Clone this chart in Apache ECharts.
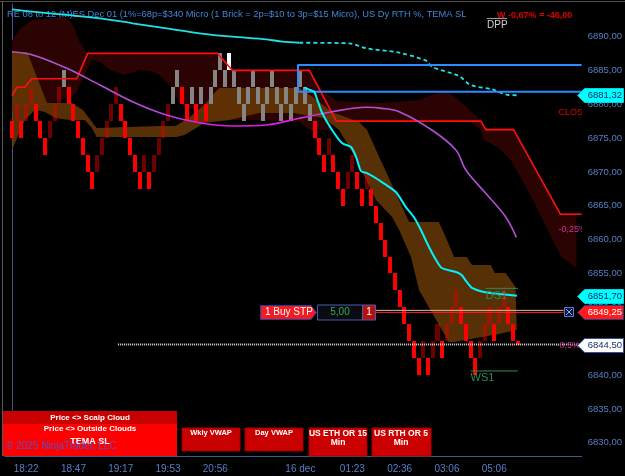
<!DOCTYPE html>
<html>
<head>
<meta charset="utf-8">
<script src="https://cdn.jsdelivr.net/npm/echarts@6/dist/echarts.min.js"></script>
<style>
  html, body { margin: 0; background: #000; }
  #chart { width: 625px; height: 476px; }
</style>
</head>
<body>
<div id="chart"></div>
<script>
// ---- data ----
const timeLabelCols = [3, 13, 23, 33, 43, 61, 72, 82, 92, 102]
const timeLabels = ['18:22', '18:47', '19:17', '19:53', '20:56', '16 dec', '01:23', '02:36', '03:06', '05:06']
const tickCols = [3, 13, 23, 33, 43, 53, 61, 72, 82, 92, 102]

const brickSize = 2.5
// top price of each renko brick (one per column)
const brickTops = [
  6877.5, 6880, 6877.5, 6880, 6882.5, 6880, 6877.5, 6875, 6877.5, 6880, 6882.5,
  6885, 6882.5, 6880, 6877.5, 6875, 6872.5, 6870, 6872.5, 6875, 6877.5, 6880, 6882.5,
  6880, 6877.5, 6875, 6872.5, 6870, 6872.5, 6870, 6872.5, 6875, 6877.5, 6880,
  6882.5, 6885, 6882.5, 6880, 6882.5, 6880, 6882.5, 6880, 6882.5, 6885, 6887.5, 6885, 6887.5, 6885,
  6882.5, 6880, 6882.5, 6885, 6882.5, 6880, 6882.5, 6885, 6882.5, 6880, 6882.5, 6880, 6882.5, 6885, 6882.5, 6880,
  6877.5, 6875, 6872.5, 6875, 6872.5, 6870, 6867.5, 6870, 6872.5, 6870, 6867.5, 6870, 6867.5,
  6865, 6862.5, 6860, 6857.5, 6855, 6852.5, 6850, 6847.5, 6845, 6842.5,
  6845, 6842.5, 6845, 6847.5, 6845, 6847.5, 6850, 6852.5, 6850, 6847.5, 6845, 6842.5, 6845, 6847.5, 6850, 6847.5, 6850, 6852.5, 6850, 6847.5
]
// R red, D dark red, G gray, W white
const brickKinds = 'RDRDDRRRDDD' + 'GRRRRRRDDDDD' + 'RRRRRDRDDDD' + 'GGRRGRGRGGGGWG' +
  'GGGGGGGGGGGGGGGG' + 'RRRDRRRDDRRDR' + 'RRRRRRRRRR' + 'DRDDRDDDRRRRDDDRDDRR'
// last (forming) brick: col, top, bottom, wick low
const formingBrick = [107, 6845, 6844.5, 6843.9]

const vwapSolid = [[0, 6894.02], [4.4, 6893.66], [11.6, 6893.18], [18.6, 6892.69], [25.5, 6891.95], [32.7, 6891.21],
  [39.7, 6890.47], [46.6, 6889.97], [53.8, 6889.59], [57.2, 6889.23], [60.8, 6889.08]]
const vwapDashed = [[60.8, 6889.08], [71.3, 6888.99], [74.9, 6888.26], [81.9, 6887.61], [87.6, 6886.43], [88.8, 6885.54],
  [94.5, 6884.17], [97, 6882.84], [101.5, 6882.2], [105.1, 6881.36], [107.2, 6881.32]]
const temaLine = [[61.8, 6882.5], [62.7, 6882.2], [63.9, 6881.85], [64.6, 6880.62], [65.6, 6878.7], [67.7, 6876.19],
  [69.8, 6874.27], [71.7, 6873.68], [72.8, 6872.2], [73.8, 6870.13], [75.1, 6869.83], [77.6, 6868.8], [81.2, 6867.03],
  [83.3, 6864.81], [85, 6863.34], [86.5, 6861.42], [88.2, 6858.91], [89.7, 6856.99], [90.9, 6855.81], [93.9, 6855.22],
  [95.1, 6854.78], [96.2, 6853.74], [97.3, 6852.86], [99.8, 6852.27], [103, 6851.98], [106.8, 6851.7]]
const slowAvg = [[0, 6887.75], [4.4, 6887.27], [11.6, 6885.3], [18.6, 6882.84], [25.5, 6880.37], [32.7, 6878.4],
  [39.7, 6877.27], [46.6, 6876.78], [53.8, 6876.93], [60.8, 6877.92], [67.7, 6878.89], [74.9, 6879.54], [78.3, 6879.39],
  [81.9, 6878.89], [88.8, 6876.19], [93.9, 6873.24], [96, 6870.28], [100.2, 6866.84], [104.4, 6863.38], [106.7, 6860.34]]
const stopLine = [[0, 6881.25], [1.05, 6882.5], [2.7, 6882.5], [4.2, 6883.75], [13.7, 6883.75], [16, 6887.5],
  [43.5, 6887.5], [46.6, 6885], [62.9, 6885], [68.6, 6877.5], [99.2, 6877.5], [100.2, 6876.25], [106.1, 6876.25],
  [116, 6863.75], [120.5, 6863.75]]

const outerCloud = [[0, 6889.48], [2.1, 6891.4], [4.4, 6892.44], [11.2, 6892.88], [12.9, 6891.7], [14.3, 6889.19],
  [16, 6887.5], [43.5, 6887.5], [46.6, 6885.05], [62.9, 6885.05], [65.4, 6882.39], [68.6, 6880.47], [77.6, 6880.18],
  [86.1, 6880.62], [90.3, 6881.8], [91.8, 6882.1], [94.5, 6880.62], [97.7, 6878.55], [99.2, 6877.52], [100.2, 6876.48],
  [106.1, 6876.48], [116, 6863.93], [119.4, 6863.93], [119.4, 6855.8], [116.2, 6857.43], [114.1, 6860.38],
  [109.9, 6866.29], [105.5, 6871.76], [103, 6873.53], [99.8, 6874.71], [99.2, 6876.19], [96.6, 6877.52],
  [68.6, 6877.52], [66.7, 6876.19], [62.9, 6876.19], [60.8, 6877.37], [52.3, 6877.67], [42.8, 6877.67],
  [38.6, 6879.14], [35.4, 6880.18], [33.8, 6882.54], [31.2, 6884.31], [29.1, 6884.9], [27, 6885.05], [23.8, 6884.31],
  [20.7, 6885.05], [18.6, 6886.23], [16.9, 6886.53], [15.4, 6884.31], [13.3, 6881.36], [10.1, 6880.62],
  [4.9, 6879.44], [0, 6879.14]]
const scalpCloud = [[0, 6887.71], [3.2, 6887.71], [7.4, 6880.18], [12.7, 6880.18], [15, 6879.14], [17.9, 6876.48],
  [31.2, 6876.78], [34.6, 6876.78], [37.6, 6878.11], [40.7, 6879.88], [42.4, 6881.36], [43.9, 6882.39], [60.8, 6882.39],
  [63.3, 6881.21], [67.7, 6878.85], [73.4, 6877.37], [75.1, 6876.19], [77, 6873.24], [80.4, 6868.07], [84, 6862.6],
  [90.3, 6862.6], [92, 6859.94], [93.5, 6857.43], [96.2, 6857.43], [97.3, 6856.25], [101.3, 6856.25], [102.1, 6855.07],
  [104.4, 6855.07], [106.5, 6853], [106.8, 6846.65],
  [103, 6846.06], [93.5, 6844.87], [92.4, 6844.87], [86.1, 6852.56], [84.4, 6857.43], [81.9, 6861.42], [80.4, 6863.34],
  [77, 6865.85], [74.1, 6869.99], [71.7, 6873.24], [69.2, 6876.19], [66, 6877.96], [62.9, 6878.26], [59.7, 6878.7],
  [52.3, 6878.7], [46, 6877.67], [40.7, 6877.22], [36.5, 6875.45], [34.8, 6875.16], [17.9, 6875.16], [16.9, 6876.48],
  [15.4, 6877.67], [12.2, 6877.67], [9.1, 6877.96], [7, 6878.85], [4.9, 6879.14], [2.7, 6877.67], [0, 6873.24]]

const weekLevels = [6885.8, 6881.85]
const weekStartCol = 60.5
const lastPrice = 6844.5
const lastPriceStartCol = 22.4
const orderPrice = 6849.25
const orderLineCols = [76.8, 116.7]
const pivotLevels = [6852.8, 6840.6]
const pivotCols = [[100.2, 107], [97, 107]]
const pivotNames = ['DS1', 'WS1']
const priceTags = [6881.32, 6851.70, 6849.25, 6844.50]
const notes = [[115.6, 6878.74, 'CLOSE'], [115.6, 6861.42, '-0,25%'], [115.2, 6844.4, '-0,5%']]

// ---- chart ----
const FONT = "'Liberation Sans', Arial, sans-serif"
const NCAT = 122
const catData = []
for (let j = 0; j < NCAT; j++) {
  const k = timeLabelCols.indexOf(j - 1)
  catData.push(k >= 0 ? timeLabels[k] : '')
}
const fmt = v => v.toFixed(2).replace('.', ',')

const brickColors = { R: '#ff0000', D: 'rgba(215,0,0,0.5)', G: '#858585', W: '#ffffff' }
const brickData = brickTops.map((t, i) => [i, t, t - brickSize])
brickData.push(formingBrick)

function polygonSeries(pts, fill, z) {
  return {
    type: 'custom', xAxisIndex: 1, yAxisIndex: 0, z: z, silent: true, data: pts,
    renderItem(params, api) {
      if (params.dataIndex !== 0) return null
      return { type: 'polygon', shape: { points: pts.map(p => api.coord(p)) }, style: { fill: fill } }
    }
  }
}

function flatLine(data, color, width, type, z) {
  return {
    type: 'line', xAxisIndex: 1, yAxisIndex: 0, data: data, z: z, silent: true,
    showSymbol: false, lineStyle: { color: color, width: width, type: type || 'solid' }
  }
}

const tagStyles = [
  { fill: '#00ffff', stroke: '#00d8d8', text: '#0b2a72' },
  { fill: '#00ffff', stroke: '#00d8d8', text: '#0b2a72' },
  { fill: '#ff1a1a', stroke: '#2a3a8a', text: '#ffffff' },
  { fill: '#ffffff', stroke: '#3050a0', text: '#1a2f6b' }
]
const noteColors = ['#e00000', '#d0308f', '#d0308f']

const chart = echarts.init(document.getElementById('chart'))
chart.setOption({
  backgroundColor: '#000',
  animation: false,
  grid: { left: 4.9, right: 43.3, top: 4, bottom: 20 },
  xAxis: [
    {
      type: 'category',
      data: catData,
      boundaryGap: true,
      axisLine: { lineStyle: { color: '#46568e', width: 1 } },
      axisTick: {
        alignWithLabel: true, length: 4,
        interval: (i) => tickCols.indexOf(i - 1) >= 0,
        lineStyle: { color: '#46568e' }
      },
      axisLabel: {
        interval: (i, v) => v !== '',
        color: '#5a7fc4', fontSize: 10, fontFamily: FONT, margin: 8
      },
      splitLine: { show: false }
    },
    { type: 'value', min: -1.5, max: 120.5, show: false }
  ],
  yAxis: {
    type: 'value',
    position: 'right',
    min: 6828.04,
    max: 6894.8,
    splitNumber: 13,
    axisLine: { show: true, lineStyle: { color: '#46568e' } },
    axisTick: { show: false },
    axisLabel: {
      color: '#5a7fc4', fontSize: 9.5, fontFamily: FONT, margin: 6,
      showMinLabel: false, showMaxLabel: false,
      formatter: fmt
    },
    splitLine: { show: false }
  },
  series: [
    polygonSeries(outerCloud, '#2c0303', 1),
    polygonSeries(scalpCloud, 'rgba(110,60,6,0.8)', 2),
    {
      type: 'custom', xAxisIndex: 1, yAxisIndex: 0, z: 3, silent: true,
      data: brickData,
      renderItem(params, api) {
        const i = params.dataIndex
        const col = api.value(0)
        const p0 = api.coord([col - 0.43, api.value(1)])
        const p1 = api.coord([col + 0.43, api.value(2)])
        const x = Math.round(p0[0]), y = Math.round(p0[1])
        const rect = { type: 'rect', shape: { x: x, y: y, width: Math.round(p1[0]) - x, height: Math.round(p1[1]) - y },
          style: { fill: brickColors[brickKinds[i] || 'R'] } }
        if (i < brickTops.length) return rect
        const w = api.coord([col, api.value(3)])
        return { type: 'group', children: [rect,
          { type: 'line', shape: { x1: x + 2, y1: y, x2: x + 2, y2: Math.round(w[1]) }, style: { stroke: '#ff0000', lineWidth: 1 } }] }
      }
    },
    flatLine(stopLine, '#ff1010', 1.6, 'solid', 4),
    Object.assign(flatLine(slowAvg, null, 1.6, 'solid', 5), {
      smooth: 0.35,
      lineStyle: {
        width: 1.6,
        color: new echarts.graphic.LinearGradient(0, 0, 1, 0, [
          { offset: 0, color: '#a95bd0' },
          { offset: 0.27, color: '#b84ad8' },
          { offset: 0.36, color: '#e21ce6' },
          { offset: 0.55, color: '#e21ce6' },
          { offset: 0.66, color: '#b04fd2' },
          { offset: 1, color: '#b04fd2' }
        ])
      }
    }),
    Object.assign(flatLine(vwapSolid, '#1ee3e6', 1.8, 'solid', 6), { smooth: 0.3 }),
    Object.assign(flatLine(vwapDashed, '#1ee3e6', 1.8, [4, 3], 6), { smooth: 0.3 }),
    Object.assign(flatLine(temaLine, '#00f4ff', 2, 'solid', 7), { smooth: 0.2 }),
    flatLine([[120.5, weekLevels[0]], [weekStartCol, weekLevels[0]], [weekStartCol, weekLevels[1]], [120.5, weekLevels[1]]],
      '#2a8cff', 2, 'solid', 6),
    flatLine([[lastPriceStartCol, lastPrice], [120.5, lastPrice]], '#dcdcdc', 2, [1, 1], 8),
    flatLine([[orderLineCols[0], orderPrice + 0.3], [orderLineCols[1], orderPrice + 0.3]], '#e8b4b4', 1, 'solid', 8),
    flatLine([[orderLineCols[0], orderPrice], [orderLineCols[1], orderPrice]], '#ff2020', 1, 'solid', 8),
    flatLine([[pivotCols[0][0], pivotLevels[0]], [pivotCols[0][1], pivotLevels[0]]], '#2e8b57', 1, 'solid', 8),
    flatLine([[pivotCols[1][0], pivotLevels[1]], [pivotCols[1][1], pivotLevels[1]]], '#2e8b57', 1, 'solid', 8),
    {
      // pivot names and clipped percent notes near the right edge
      type: 'custom', xAxisIndex: 1, yAxisIndex: 0, z: 9, silent: true, clip: true,
      data: pivotLevels.map((v, i) => [pivotCols[i][0], v]).concat(notes.map(n => [n[0], n[1]])),
      renderItem(params, api) {
        const i = params.dataIndex
        const p = api.coord([api.value(0), api.value(1)])
        if (i < pivotNames.length) {
          return { type: 'text', style: { text: pivotNames[i], x: p[0], y: p[1] + 2, fill: '#2e8b57',
            font: '11px ' + FONT, verticalAlign: 'top' } }
        }
        const n = i - pivotNames.length
        return { type: 'text', style: { text: notes[n][2], x: p[0], y: p[1], fill: noteColors[n],
          font: '9px ' + FONT, verticalAlign: 'middle' } }
      }
    },
    {
      // price tags on the axis plus the pending order row
      type: 'custom', xAxisIndex: 1, yAxisIndex: 0, z: 20, silent: true, clip: false,
      data: priceTags.map(v => [0, v]),
      renderItem(params, api) {
        const i = params.dataIndex
        const cs = params.coordSys
        const xr = cs.x + cs.width
        const y = Math.round(api.coord([0, api.value(1)])[1]) + 0.5
        const st = tagStyles[i]
        const kids = [
          { type: 'polygon', shape: { points: [[xr - 4, y], [xr + 3, y - 7], [623.5, y - 7], [623.5, y + 7], [xr + 3, y + 7]] },
            style: { fill: st.fill, stroke: st.stroke, lineWidth: 1 } },
          { type: 'text', style: { text: fmt(api.value(1)), x: xr + 6, y: y, fill: st.text, font: '9.5px ' + FONT, verticalAlign: 'middle' } }
        ]
        if (api.value(1) === orderPrice) {
          kids.push(
            { type: 'polygon', shape: { points: [[260.5, y - 7], [311, y - 7], [316.5, y], [311, y + 7], [260.5, y + 7]] },
              style: { fill: '#ee1c24', stroke: '#2a3a9a', lineWidth: 1 } },
            { type: 'text', style: { text: '1 Buy STP', x: 265, y: y, fill: '#fff', font: '10px ' + FONT, verticalAlign: 'middle' } },
            { type: 'rect', shape: { x: 317.5, y: y - 7.5, width: 45, height: 15 }, style: { fill: '#0a0a12', stroke: '#4a5ab0' } },
            { type: 'text', style: { text: '5,00', x: 340, y: y, fill: '#33b04a', font: '10px ' + FONT, align: 'center', verticalAlign: 'middle' } },
            { type: 'rect', shape: { x: 362.5, y: y - 7.5, width: 13, height: 15 }, style: { fill: '#b80f0f', stroke: '#4a5ab0' } },
            { type: 'text', style: { text: '1', x: 369, y: y, fill: '#fff', font: '10px ' + FONT, align: 'center', verticalAlign: 'middle' } },
            { type: 'rect', shape: { x: 564.5, y: y - 5, width: 9, height: 9 }, style: { fill: '#10183a', stroke: '#5a78e0' } },
            { type: 'line', shape: { x1: 566, y1: y - 3.5, x2: 572, y2: y + 2.5 }, style: { stroke: '#8aa6ff' } },
            { type: 'line', shape: { x1: 572, y1: y - 3.5, x2: 566, y2: y + 2.5 }, style: { stroke: '#8aa6ff' } }
          )
        }
        return { type: 'group', children: kids }
      }
    }
  ],
  graphic: [
    { type: 'line', shape: { x1: 0, y1: 1.5, x2: 625, y2: 1.5 }, style: { stroke: '#505050' }, z: 50 },
    { type: 'line', shape: { x1: 2.5, y1: 1.5, x2: 2.5, y2: 456 }, style: { stroke: '#5a5a5a' }, z: 50 },
    { type: 'text', left: 7, top: 10, z: 1, style: {
      text: 'RE 08 to 12 (M)ES Dec 01 (1%=68p=$340 Micro (1 Brick = 2p=$10 to 3p=$15 Micro), US Dy RTH %, TEMA SL',
      fill: '#3f86dc', font: '9.3px ' + FONT } },
    { type: 'line', shape: { x1: 487, y1: 18.5, x2: 507, y2: 18.5 }, style: { stroke: '#9a9a9a' }, z: 50 },
    { type: 'text', left: 487, top: 20, z: 50, style: { text: 'DPP', fill: '#d0d0d0', font: '10px ' + FONT } },
    { type: 'text', left: 497, top: 11, z: 51, style: { text: 'W -0,67% = -46,00', fill: '#e00000', font: 'bold 9px ' + FONT } },
    // indicator buttons along the bottom
    { type: 'rect', z: 100, shape: { x: 3, y: 411, width: 174, height: 13 }, style: { fill: '#c80000' } },
    { type: 'rect', z: 100, shape: { x: 3, y: 424, width: 174, height: 32 }, style: { fill: '#ff0000' } },
    { type: 'text', z: 101, style: { text: 'Price <> Scalp Cloud', x: 90, y: 417.5, fill: '#fff', font: 'bold 8px ' + FONT, align: 'center', verticalAlign: 'middle' } },
    { type: 'text', z: 101, style: { text: 'Price <> Outside Clouds', x: 90, y: 429, fill: '#fff', font: 'bold 8px ' + FONT, align: 'center', verticalAlign: 'middle' } },
    { type: 'text', z: 101, style: { text: 'TEMA SL', x: 90, y: 442, fill: '#fff', font: 'bold 9px ' + FONT, align: 'center', verticalAlign: 'middle' } },
    { type: 'rect', z: 100, shape: { x: 182, y: 428, width: 58, height: 23 }, style: { fill: '#c80000', stroke: '#a00000' } },
    { type: 'text', z: 101, style: { text: 'Wkly VWAP', x: 211, y: 433, fill: '#fff', font: 'bold 7.5px ' + FONT, align: 'center', verticalAlign: 'middle' } },
    { type: 'rect', z: 100, shape: { x: 245, y: 428, width: 58, height: 23 }, style: { fill: '#c80000', stroke: '#a00000' } },
    { type: 'text', z: 101, style: { text: 'Day VWAP', x: 274, y: 433, fill: '#fff', font: 'bold 7.5px ' + FONT, align: 'center', verticalAlign: 'middle' } },
    { type: 'rect', z: 100, shape: { x: 309, y: 428, width: 58, height: 28 }, style: { fill: '#cc0000', stroke: '#a00000' } },
    { type: 'text', z: 101, style: { text: 'US ETH OR 15\nMin', x: 338, y: 438, fill: '#fff', font: 'bold 8.5px ' + FONT, align: 'center', verticalAlign: 'middle', lineHeight: 9 } },
    { type: 'rect', z: 100, shape: { x: 372, y: 428, width: 59, height: 28 }, style: { fill: '#cc0000', stroke: '#a00000' } },
    { type: 'text', z: 101, style: { text: 'US RTH OR 5\nMin', x: 401, y: 438, fill: '#fff', font: 'bold 8.5px ' + FONT, align: 'center', verticalAlign: 'middle', lineHeight: 9 } },
    { type: 'text', left: 6, top: 441, z: 110, style: { text: '\u00a9 2025 NinjaTrader, LLC', fill: 'rgba(70,90,220,0.9)', font: '10px ' + FONT } }
  ]
})
</script>
</body>
</html>
